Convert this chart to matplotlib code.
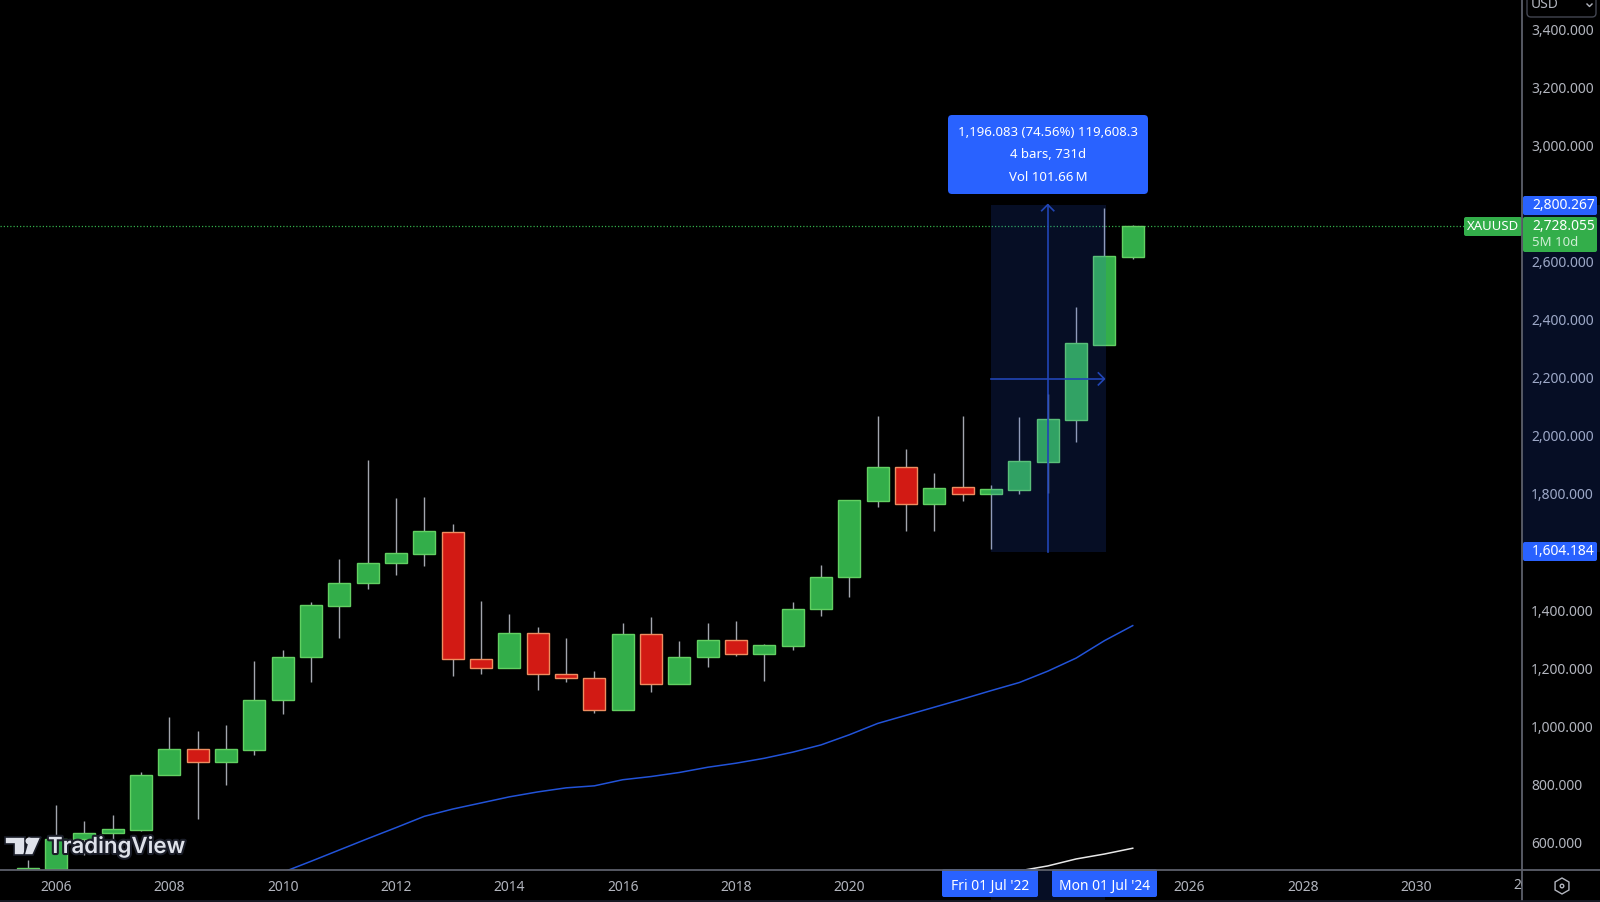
import matplotlib
matplotlib.use("Agg")
import matplotlib.pyplot as plt
import numpy as np
from matplotlib.patches import Rectangle, FancyBboxPatch, RegularPolygon, Circle, Polygon
from matplotlib.transforms import Bbox, ScaledTranslation
import matplotlib.patheffects as pe

# ---------- data: half-year candles of XAUUSD ----------
first_year = 2005.5
opens = [440, 513, 614, 635, 647, 834, 924, 879, 922, 1094, 1241, 1417, 1498, 1565, 1597, 1674, 1235,
         1203, 1326, 1185, 1171, 1059, 1322, 1150, 1241, 1301, 1252, 1281, 1407, 1516, 1780, 1895, 1769,
         1828, 1804, 1818, 1915, 2057, 2318, 2619]
closes = [516, 614, 637, 648, 834, 924, 879, 924, 1094, 1241, 1421, 1498, 1565, 1600, 1677, 1235, 1203,
          1326, 1182, 1171, 1059, 1322, 1150, 1241, 1301, 1252, 1284, 1407, 1516, 1783, 1895, 1769, 1825,
          1804, 1822, 1918, 2061, 2322, 2622, 2726]
highs = [542, 731, 677, 696, 846, 1034, 987, 1007, 1227, 1266, 1431, 1579, 1920, 1790, 1793, 1699, 1435,
         1389, 1344, 1308, 1192, 1358, 1378, 1298, 1358, 1365, 1288, 1431, 1558, 1783, 2071, 1959, 1877,
         2071, 1834, 2068, 2148, 2448, 2790, 2730]
lows = [430, 510, 560, 611, 643, 834, 683, 802, 905, 1044, 1157, 1308, 1477, 1526, 1554, 1178, 1185,
        1203, 1129, 1157, 1048, 1059, 1122, 1150, 1206, 1245, 1160, 1266, 1382, 1449, 1759, 1677, 1677,
        1780, 1614, 1802, 1807, 1983, 2318, 2612]

ma_blue_start = 2010.0
ma_blue = [500, 538, 577, 616, 654, 693, 718, 739, 760, 777, 791, 798, 819, 830, 844, 862, 876, 893, 914,
           939, 974, 1013, 1041, 1069, 1097, 1126, 1154, 1193, 1238, 1298, 1350]
ma_white_start = 2023.0
ma_white = [505, 522, 546, 563, 583]

year_ticks = [2006, 2008, 2010, 2012, 2014, 2016, 2018, 2020, 2026, 2028, 2030]
price_ticks = [600, 800, 1000, 1200, 1400, 1800, 2000, 2200, 2400, 2600, 3000, 3200, 3400]
range_low, range_high = 1604.184, 2800.267
range_start, range_end = 2022.5, 2024.5
last_price = 2728.055

# ---------- layout ----------
W, H = 1600, 902
AX_R, AX_B = 1522, 870
FONT = ['Noto Sans', 'DejaVu Sans']
plt.rcParams['font.family'] = FONT
GREY = '#b2b5be'
BLUE = '#2962ff'
GREEN = '#33ae4a'
LINE = '#5d606b'

fig = plt.figure(figsize=(16, 9.02), dpi=100, facecolor='black')
ax = fig.add_axes([0, 1 - AX_B / H, AX_R / W, AX_B / H], facecolor='black', zorder=1)
px_year = 56.67
ax.set_xlim(2006 - 56 / px_year, 2006 + (AX_R - 56) / px_year)
ppu = 0.29025
ax.set_ylim(3000 - (AX_B - 146.7) / ppu, 3000 + 146.7 / ppu)

years = first_year + 0.5 * np.arange(len(opens))
width = 0.39
for x, o, c, h, l in zip(years, opens, closes, highs, lows):
    up = c >= o
    ax.plot([x, x], [l, h], color='#a3a6ae', lw=1.0, solid_capstyle='butt', zorder=2)
    ax.add_patch(Rectangle((x - width / 2, min(o, c)), width, abs(c - o),
                           facecolor=GREEN if up else '#d21a14',
                           edgecolor='#62d062' if up else '#ee8d60', lw=1.0, zorder=3))

ax.plot(ma_blue_start + 0.5 * np.arange(len(ma_blue)), ma_blue, color='#2253d8', lw=1.1, zorder=4)
ax.plot(ma_white_start + 0.5 * np.arange(len(ma_white)), ma_white, color='#e8e8e8', lw=1.1, zorder=4)
ax.axhline(last_price, color=GREEN, lw=0.9, ls=(0, (1, 1.6)), zorder=1)

# measured range overlay
ax.add_patch(Rectangle((range_start, range_low), range_end - range_start + 0.02, range_high - range_low,
                       facecolor=BLUE, alpha=0.15, lw=0, zorder=5))
mid_x = (range_start + range_end) / 2
ARW = '#2145b5'
ax.plot([mid_x, mid_x], [range_low, range_high], color=ARW, lw=1.2, zorder=6)
ax.plot([range_start, range_end], [2200, 2200], color=ARW, lw=1.2, zorder=6)
dx, dy = 6 / px_year, 6 / ppu
ax.plot([mid_x - dx, mid_x, mid_x + dx], [range_high - dy, range_high, range_high - dy], color=ARW, lw=1.2, zorder=6)
ax.plot([range_end - dx, range_end, range_end - dx], [2200 + dy, 2200, 2200 - dy], color=ARW, lw=1.2, zorder=6)

for s in ax.spines.values():
    s.set_visible(False)
ax.set_xticks(year_ticks)
ax.set_xticklabels([str(y) for y in year_ticks], fontsize=10, color=GREY, fontweight='semibold')
ax.yaxis.tick_right()
ax.set_yticks(price_ticks)
ax.set_yticklabels([f'{p:,}.000' for p in price_ticks], fontsize=10, color=GREY)
ax.tick_params(axis='x', length=0, pad=7.2)
ax.tick_params(axis='y', length=0, pad=6.5)
up_one = ScaledTranslation(0, 1 / 100, fig.dpi_scale_trans)
for lab in ax.get_yticklabels():
    lab.set_transform(lab.get_transform() + up_one)

# ---------- chrome drawn in pixel coordinates ----------
px = fig.add_axes([0, 0, 1, 1], facecolor='none', zorder=2)
px.set_xlim(0, W)
px.set_ylim(H, 0)
px.axis('off')

# axis scale range highlights
px.add_patch(Rectangle((AX_R, 205), W - AX_R, 347, facecolor=BLUE, alpha=0.15, lw=0))
px.add_patch(Rectangle((991, AX_B), 113.5, 30, facecolor=BLUE, alpha=0.15, lw=0))

# axis lines
px.plot([0, W], [AX_B, AX_B], color=LINE, lw=1.3)
px.plot([AX_R, AX_R], [0, 900], color=LINE, lw=1.3)
px.plot([0, W], [900.5, 900.5], color='#1c1f2b', lw=1.2)

# clipped tick label at the scale edge
t = px.text(1529, 885.5, '2032', color=GREY, fontsize=10, fontweight='semibold', ha='center', va='center',
            clip_on=True)
t.set_clip_box(Bbox([[0, 0], [AX_R, H]]))

# tooltip
px.add_patch(FancyBboxPatch((951, 118), 194, 73, boxstyle='round,pad=3,rounding_size=4',
                            facecolor=BLUE, edgecolor='none'))
for y, s in zip([132.5, 155, 177.5], ['1,196.083 (74.56%) 119,608.3', '4 bars, 731d', 'Vol 101.66\u2009M']):
    px.text(1048, y, s, color='white', fontsize=9.5, ha='center', va='center')

# price tags
def tag(x0, x1, y0, y1, color):
    px.add_patch(FancyBboxPatch((x0 + 1, y0 + 1), x1 - x0 - 2, y1 - y0 - 2,
                                boxstyle='round,pad=1,rounding_size=2', facecolor=color, edgecolor='none'))

tag(AX_R + 1, 1597, 196, 215, BLUE)
px.text(1532, 205.5, '2,800.267', color='white', fontsize=10, va='center')
tag(AX_R + 1, 1597, 542, 561, BLUE)
px.text(1532, 551.5, '1,604.184', color='white', fontsize=10, va='center')
tag(1464, AX_R, 217, 236, GREEN)
px.text(1493, 226.5, 'XAUUSD', color='white', fontsize=9.5, ha='center', va='center')
tag(AX_R + 1, 1597, 217, 252, GREEN)
px.text(1532, 226.5, '2,728.055', color='white', fontsize=10, va='center')
px.text(1532, 242, '5M 10d', color='#cfeed5', fontsize=9.5, va='center')

# date tags
tag(942, 1038, 869, 897, BLUE)
px.text(990, 886, "Fri 01 Jul '22", color='white', fontsize=10, ha='center', va='center')
tag(1052, 1157, 869, 897, BLUE)
px.text(1104.5, 886, "Mon 01 Jul '24", color='white', fontsize=10, ha='center', va='center')

# currency button
px.add_patch(FancyBboxPatch((1527, -6), 69, 23, boxstyle='round,pad=0,rounding_size=4',
                            facecolor='black', edgecolor='#434651', lw=1))
px.text(1531, 5, 'USD', color=GREY, fontsize=10, va='center')
px.plot([1587, 1589.5, 1592], [4, 6.5, 4], color=GREY, lw=1)

# settings icon
px.add_patch(RegularPolygon((1562, 886), 6, radius=8, facecolor='none', edgecolor=GREY, lw=1))
px.add_patch(Circle((1562, 886), 1.8, facecolor='none', edgecolor=GREY, lw=1))

# TradingView watermark
LOGO = '#dfe2ea'
stroke = [pe.withStroke(linewidth=3, foreground='#1a1d28')]
for pts in ([(5, 837), (25, 837), (25, 855), (14, 855), (14, 844), (5, 844)],
            [(29, 837), (41, 837), (33, 855), (24, 855)]):
    px.add_patch(Polygon(pts, closed=True, facecolor=LOGO, edgecolor='#1a1d28', lw=1.2, zorder=5))
px.add_patch(Circle((29, 841), 3.5, facecolor=LOGO, edgecolor='none', zorder=5))
px.text(48, 846.5, 'TradingView', color=LOGO, fontsize=16, fontweight='semibold', family='Inter',
        va='center', path_effects=stroke, zorder=5)

fig.savefig('out.png', dpi=100, facecolor='black')
